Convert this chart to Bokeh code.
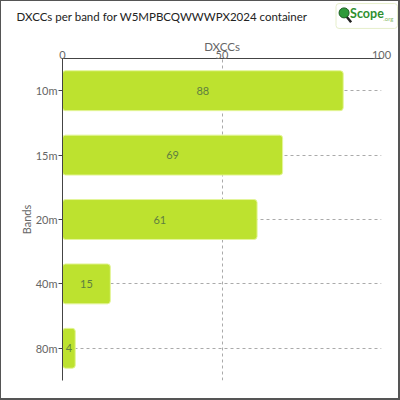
from bokeh.plotting import figure
from bokeh.layouts import column
from bokeh.models import FactorRange, Range1d, FixedTicker, ColumnDataSource
from bokeh.core.properties import value
from bokeh.embed import file_html
from bokeh.resources import INLINE

bands = ["10m", "15m", "20m", "40m", "80m"]
dxccs = [88, 69, 61, 15, 4]
x_ticks = [0, 50, 100]
title_text = "DXCCs per band for W5MPBCQWWWPX2024 container"

FONT = "Lato"
BORDER = "#555555"

# ---------------- header (title + logo) ----------------
HW, HH = 397, 28
h = figure(width=400, height=29, x_range=Range1d(0, HW), y_range=Range1d(HH, 0),
           output_backend="svg", toolbar_location=None,
           min_border=0, min_border_left=0, min_border_right=0,
           min_border_top=0, min_border_bottom=0)
h.frame_align = False
h.axis.visible = False
h.grid.visible = False
h.outline_line_color = None
h.border_fill_color = "white"
h.background_fill_color = "white"
h.styles = {"border-top": f"1px solid {BORDER}", "border-left": f"1px solid {BORDER}",
            "border-right": f"2px solid {BORDER}"}

h.text(x=[15], y=[14.5], text=[title_text], text_font=value(FONT), text_font_size="11.5px",
       text_color="#222222", text_baseline="middle", text_align="left")

# logo approximation
h.quad(left=[332], right=[393], top=[2], bottom=[26], fill_color="white",
       line_color="#e6eecb", line_width=1, border_radius=3)
h.segment(x0=[342], y0=[14], x1=[347], y1=[20], line_color="#222222", line_width=2.5)
h.scatter(x=[340], y=[11], size=10, marker="circle", fill_color="#2f9a3a",
          line_color="#1d5f22", line_width=1)
h.text(x=[346], y=[12], text=["Scope"], text_font=value(FONT), text_font_size="12.5px",
       text_font_style="bold", text_color="#2f8f30", text_baseline="middle", text_align="left")
h.text(x=[379], y=[16], text=[".org"], text_font=value(FONT), text_font_size="6px",
       text_color="#88bb66", text_baseline="middle", text_align="left")

# ---------------- main chart ----------------
src = ColumnDataSource(dict(
    band=bands,
    val=dxccs,
    mid=[v / 2 for v in dxccs],
    lab=[str(v) for v in dxccs],
))

p = figure(
    width=400, height=371,
    y_range=FactorRange(factors=bands[::-1]),
    x_range=Range1d(0, 100),
    x_axis_location="above",
    output_backend="svg", toolbar_location=None,
    min_border_left=61, min_border_right=20, min_border_top=29, min_border_bottom=20,
)
p.frame_align = False
p.styles = {"border-left": f"1px solid {BORDER}", "border-right": f"2px solid {BORDER}",
            "border-bottom": f"2px solid {BORDER}"}
p.outline_line_color = None
p.background_fill_color = "white"
p.border_fill_color = "white"

p.xgrid.ticker = FixedTicker(ticks=x_ticks)
for g in (p.xgrid, p.ygrid):
    g.grid_line_color = "#aaaaaa"
    g.grid_line_dash = "3 3"
    g.grid_line_width = 1

p.hbar(y="band", right="val", left=0, height=0.62, source=src,
       fill_color="#bde22f", line_color="#e4f59a", line_width=1,
       border_radius=3)

p.text(x="mid", y="band", text="lab", source=src,
       text_align="center", text_baseline="middle",
       text_color="#5f7f40", text_font_size="11px", text_font=value(FONT))

xa = p.xaxis[0]
xa.ticker = FixedTicker(ticks=x_ticks)
xa.axis_label = "DXCCs"
xa.axis_label_standoff = -5
xa.axis_label_text_font = FONT
xa.axis_label_text_font_style = "normal"
xa.axis_label_text_font_size = "11.5px"
xa.axis_label_text_color = "#666666"
xa.major_label_text_font = FONT
xa.major_label_text_font_size = "11px"
xa.major_label_text_color = "#666666"
xa.major_label_standoff = 0
xa.major_tick_out = 0
xa.major_tick_in = 0
xa.minor_tick_out = 0
xa.minor_tick_in = 0
xa.axis_line_color = "#444444"

ya = p.yaxis[0]
ya.axis_label = "Bands"
ya.axis_label_standoff = 0
ya.axis_label_text_font = FONT
ya.axis_label_text_font_style = "normal"
ya.axis_label_text_font_size = "11px"
ya.axis_label_text_color = "#666666"
ya.major_label_text_font = FONT
ya.major_label_text_font_size = "11px"
ya.major_label_text_color = "#666666"
ya.major_label_standoff = 1
ya.major_tick_out = 4
ya.major_tick_in = 0
ya.major_tick_line_color = "#444444"
ya.axis_line_color = "#444444"

layout = column(h, p, spacing=0)
open("out.html", "w").write(file_html(layout, INLINE))
